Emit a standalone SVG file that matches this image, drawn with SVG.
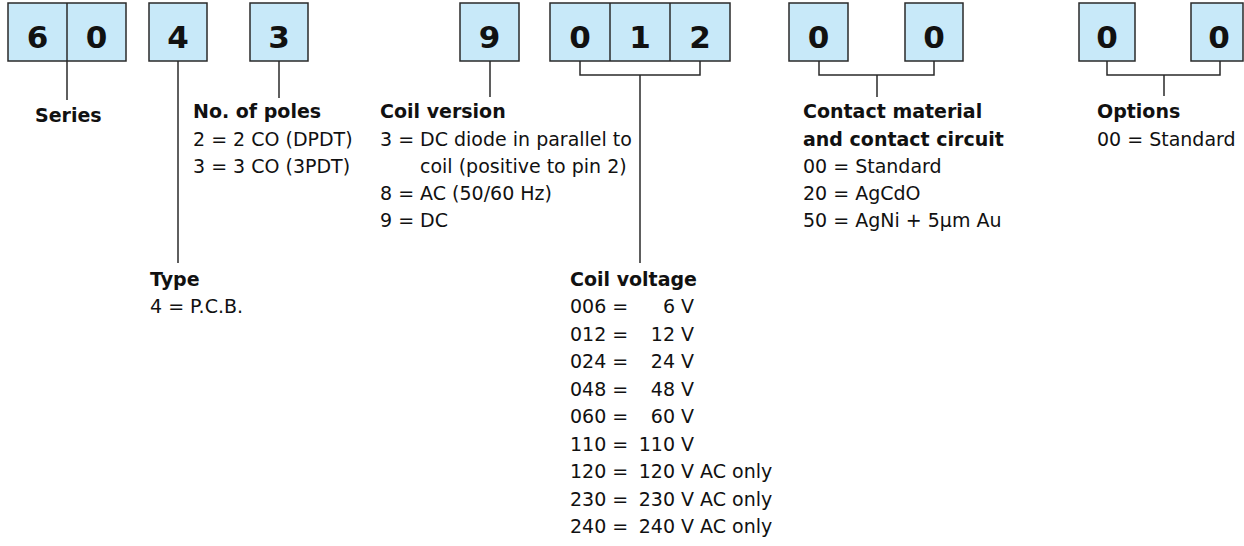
<svg xmlns="http://www.w3.org/2000/svg" width="1244" height="546" viewBox="0 0 1244 546">
<style>
.box{fill:#c8e9f9;stroke:#2a2a2a;stroke-width:1.5}
.dig{font-family:"DejaVu Sans","Liberation Sans",sans-serif;font-weight:bold;font-size:31px;fill:#111;text-anchor:middle}
.hd{font-family:"DejaVu Sans","Liberation Sans",sans-serif;font-weight:bold;font-size:19px;fill:#111}
.tx{font-family:"DejaVu Sans","Liberation Sans",sans-serif;font-size:19px;fill:#111}
.ln{fill:none;stroke:#2a2a2a;stroke-width:1.5}
</style>
<rect width="1244" height="546" fill="#fff"/>
<g id="connectors">
<path class="ln" d="M67,61V100"/>
<path class="ln" d="M178,61V263"/>
<path class="ln" d="M279,61V98"/>
<path class="ln" d="M490,61V97"/>
<path class="ln" d="M580,61V75H700V61M640,75V263"/>
<path class="ln" d="M819,61V75H934V61M877,75V97"/>
<path class="ln" d="M1107,61V75H1220V61M1164,75V96"/>
</g>
<g id="box-series">
<rect class="box" x="8" y="3" width="118" height="58"/>
<line class="ln" x1="67" y1="3" x2="67" y2="61"/>
<text class="dig" x="37.5" y="48">6</text>
<text class="dig" x="96.5" y="48">0</text>
</g>
<g id="box-type">
<rect class="box" x="149" y="3" width="58" height="58"/>
<text class="dig" x="178" y="48">4</text>
</g>
<g id="box-poles">
<rect class="box" x="250" y="3" width="58" height="58"/>
<text class="dig" x="279" y="48">3</text>
</g>
<g id="box-coilversion">
<rect class="box" x="460" y="3" width="59" height="58"/>
<text class="dig" x="489.5" y="48">9</text>
</g>
<g id="box-coilvoltage">
<rect class="box" x="550" y="3" width="180" height="58"/>
<line class="ln" x1="610" y1="3" x2="610" y2="61"/>
<line class="ln" x1="670" y1="3" x2="670" y2="61"/>
<text class="dig" x="580" y="48">0</text>
<text class="dig" x="640" y="48">1</text>
<text class="dig" x="700" y="48">2</text>
</g>
<g id="box-contact">
<rect class="box" x="789" y="3" width="59" height="58"/>
<text class="dig" x="818.5" y="48">0</text>
<rect class="box" x="905" y="3" width="58" height="58"/>
<text class="dig" x="934" y="48">0</text>
</g>
<g id="box-options">
<rect class="box" x="1079" y="3" width="56" height="58"/>
<text class="dig" x="1107" y="48">0</text>
<rect class="box" x="1191" y="3" width="52" height="58"/>
<text class="dig" x="1219" y="48">0</text>
</g>
<g id="label-series">
<text class="hd" x="35" y="122">Series</text>
</g>
<g id="label-poles">
<text class="hd" x="193" y="118">No. of poles</text>
<text class="tx" x="193" y="146">2 = 2 CO (DPDT)</text>
<text class="tx" x="193" y="173">3 = 3 CO (3PDT)</text>
</g>
<g id="label-coilversion">
<text class="hd" x="380" y="118">Coil version</text>
<text class="tx" x="380" y="146">3 = DC diode in parallel to</text>
<text class="tx" x="420" y="173">coil (positive to pin 2)</text>
<text class="tx" x="380" y="200">8 = AC (50/60 Hz)</text>
<text class="tx" x="380" y="227">9 = DC</text>
</g>
<g id="label-type">
<text class="hd" x="150" y="286">Type</text>
<text class="tx" x="150" y="313">4 = P.C.B.</text>
</g>
<g id="label-coilvoltage">
<text class="hd" x="570" y="286">Coil voltage</text>
<text class="tx" y="313"><tspan x="570">006 =</tspan><tspan x="675" text-anchor="end">6</tspan><tspan x="681">V</tspan></text>
<text class="tx" y="340.5"><tspan x="570">012 =</tspan><tspan x="675" text-anchor="end">12</tspan><tspan x="681">V</tspan></text>
<text class="tx" y="368"><tspan x="570">024 =</tspan><tspan x="675" text-anchor="end">24</tspan><tspan x="681">V</tspan></text>
<text class="tx" y="395.5"><tspan x="570">048 =</tspan><tspan x="675" text-anchor="end">48</tspan><tspan x="681">V</tspan></text>
<text class="tx" y="423"><tspan x="570">060 =</tspan><tspan x="675" text-anchor="end">60</tspan><tspan x="681">V</tspan></text>
<text class="tx" y="450.5"><tspan x="570">110 =</tspan><tspan x="675" text-anchor="end">110</tspan><tspan x="681">V</tspan></text>
<text class="tx" y="478"><tspan x="570">120 =</tspan><tspan x="675" text-anchor="end">120</tspan><tspan x="681">V AC only</tspan></text>
<text class="tx" y="505.5"><tspan x="570">230 =</tspan><tspan x="675" text-anchor="end">230</tspan><tspan x="681">V AC only</tspan></text>
<text class="tx" y="533"><tspan x="570">240 =</tspan><tspan x="675" text-anchor="end">240</tspan><tspan x="681">V AC only</tspan></text>
</g>
<g id="label-contact">
<text class="hd" x="803" y="118">Contact material</text>
<text class="hd" x="803" y="146">and contact circuit</text>
<text class="tx" x="803" y="173">00 = Standard</text>
<text class="tx" x="803" y="200">20 = AgCdO</text>
<text class="tx" x="803" y="227">50 = AgNi + 5µm Au</text>
</g>
<g id="label-options">
<text class="hd" x="1097" y="118">Options</text>
<text class="tx" x="1097" y="146">00 = Standard</text>
</g>
</svg>
